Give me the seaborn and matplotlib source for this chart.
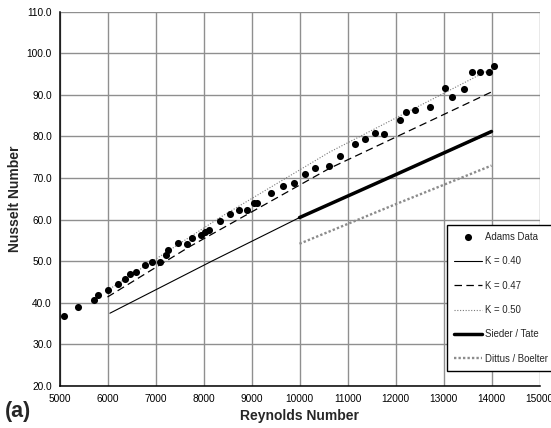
import matplotlib
matplotlib.use("Agg")
import matplotlib.pyplot as plt
import seaborn as sns
import pandas as pd
from matplotlib.ticker import FormatStrFormatter

# ---- data ----
adams_re = [5090, 5380, 5710, 5810, 6010, 6220, 6360, 6470, 6590, 6780, 6920, 7100,
            7210, 7260, 7470, 7660, 7770, 7940, 8030, 8110, 8340, 8560, 8740, 8910,
            9060, 9110, 9400, 9650, 9890, 10110, 10330, 10610, 10840, 11160, 11370,
            11570, 11770, 12100, 12210, 12410, 12720, 13030, 13170, 13430, 13600,
            13760, 13940, 14050]
adams_nu = [36.9, 39.0, 40.6, 41.9, 43.2, 44.6, 45.8, 47.0, 47.3, 49.0, 49.8, 49.9,
            51.4, 52.6, 54.5, 54.2, 55.7, 56.3, 57.1, 57.5, 59.6, 61.4, 62.2, 62.4,
            63.9, 64.1, 66.3, 68.2, 68.8, 70.9, 72.3, 72.8, 75.3, 78.2, 79.3,
            80.8, 80.6, 84.0, 85.9, 86.3, 87.0, 91.7, 89.4, 91.5, 95.6,
            95.4, 95.6, 96.9]

k040_re = [6050, 8170, 10000, 12000, 14000]
k040_nu = [37.5, 50.0, 60.5, 70.8, 81.0]
k047_re = [6000, 7710, 10620, 14000]
k047_nu = [41.4, 53.5, 72.3, 90.7]
k050_re = [6000, 8340, 10620, 14000]
k050_nu = [43.0, 60.5, 76.2, 96.3]
sieder_re = [10000, 12000, 14000]
sieder_nu = [60.5, 70.8, 81.2]
dittus_re = [10000, 12000, 14000]
dittus_nu = [54.2, 63.7, 73.0]

x_ticks = list(range(5000, 15001, 1000))
y_ticks = list(range(20, 111, 10))

sns.set_theme(style="white")
plt.rcParams['font.family'] = ['Liberation Sans', 'DejaVu Sans']

fig = plt.figure(figsize=(5.51, 4.28), dpi=100)
ax = fig.add_axes([59.5/551, 1-386/428, 480/551, (386-11.7)/428])

ax.set_axisbelow(True)
ax.grid(True, color='#8f8f8f', linewidth=1.0)

line_specs = [
    (k040_re, k040_nu, "K = 0.40", dict(color='black', lw=0.8, linestyle='-')),
    (k047_re, k047_nu, "K = 0.47", dict(color='black', lw=0.9, linestyle=(0, (6, 3.5)))),
    (k050_re, k050_nu, "K = 0.50", dict(color='#7a7a7a', lw=0.8, linestyle=(0, (1, 1.5)))),
    (sieder_re, sieder_nu, "Sieder / Tate", dict(color='black', lw=2.5, linestyle='-')),
    (dittus_re, dittus_nu, "Dittus / Boelter", dict(color='#8c8c8c', lw=1.7, linestyle=(0, (1, 0.9)))),
]

sns.scatterplot(x=adams_re, y=adams_nu, ax=ax, color='black', s=26, edgecolor='black',
                linewidth=0, label="Adams Data", zorder=5)
for xs, ys, lab, kw in line_specs:
    df = pd.DataFrame({"Re": xs, "Nu": ys})
    sns.lineplot(data=df, x="Re", y="Nu", ax=ax, label=lab, sort=False,
                 estimator=None, **kw)

ax.set_xlim(5000, 15000)
ax.set_ylim(20, 110)
ax.set_xticks(x_ticks)
ax.set_yticks(y_ticks)
ax.yaxis.set_major_formatter(FormatStrFormatter('%.1f'))
ax.tick_params(axis='both', labelsize=7.3, colors='black', direction='out',
               length=3.5, width=1, pad=2)

for side in ['top', 'right']:
    ax.spines[side].set_visible(False)
for side in ['left', 'bottom']:
    ax.spines[side].set_color('black')
    ax.spines[side].set_linewidth(1.1)

ax.set_xlabel("Reynolds Number", fontsize=10, fontweight='bold', labelpad=4)
ax.set_ylabel("Nusselt Number", fontsize=10, fontweight='bold', labelpad=3)

fig.text(5/551, 1-412/428, "(a)", fontsize=15.5, fontweight='bold', va='center', ha='left')

handles, labels = ax.get_legend_handles_labels()
leg = ax.legend(handles, labels, loc='upper left',
                bbox_to_anchor=(442/551, 1-220/428), bbox_transform=fig.transFigure,
                fontsize=6.9, frameon=True, fancybox=False, framealpha=1,
                edgecolor='black', borderpad=0.75, labelspacing=1.5,
                handlelength=2.9, handletextpad=0.3, scatterpoints=1)
leg.get_frame().set_linewidth(1.0)

fig.savefig("out.png", dpi=100)
